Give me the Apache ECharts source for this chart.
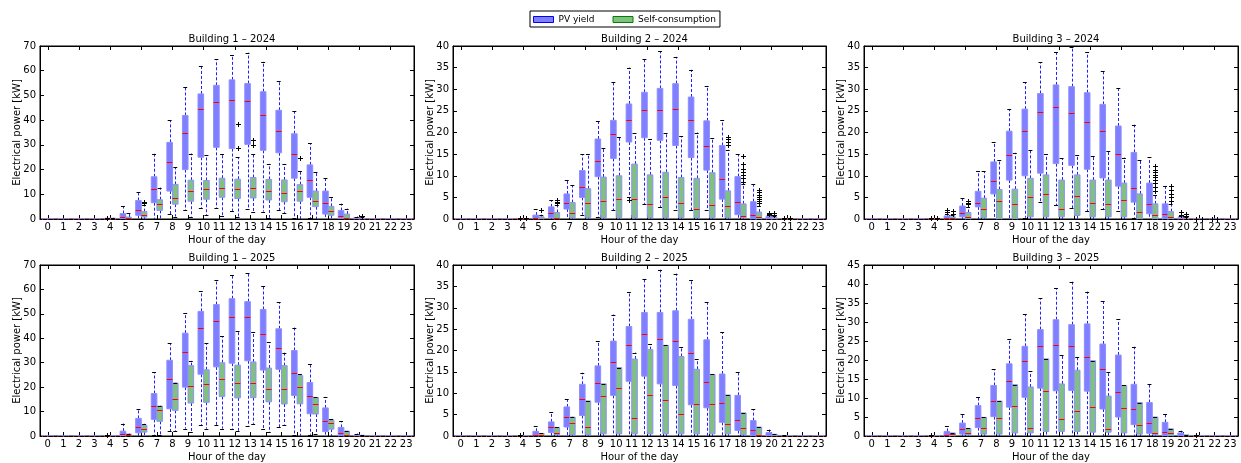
<!DOCTYPE html>
<html><head><meta charset="utf-8">
<script src="https://cdn.jsdelivr.net/npm/echarts@6/dist/echarts.min.js"></script>
<style>html,body{margin:0;padding:0;background:#fff}#c{width:1241px;height:463px}</style>
</head><body><div id="c"></div>
<script>
// ---------- data ----------
const hours = ['0','1','2','3','4','5','6','7','8','9','10','11','12','13','14','15','16','17','18','19','20','21','22','23'];
const titles = ['Building 1 \u2013 2024','Building 2 \u2013 2024','Building 3 \u2013 2024','Building 1 \u2013 2025','Building 2 \u2013 2025','Building 3 \u2013 2025'];
const yMax = [70, 40, 40, 70, 40, 45];
const yStep = [10, 5, 5, 10, 5, 5];
// each row: [lowWhisker, q1, median, q3, highWhisker] for hours 0..23
const b1_2024_pv = [[0,0,0,0,0],[0,0,0,0,0],[0,0,0,0,0],[0,0,0,0,0],[0,0,0.1,0.3,0.5],[0,0.1,0.8,2.2,5.2],[0,1.5,3.8,7.5,10.9],[0,6.6,12,17.1,26.4],[2,11.3,23,31,40],[3.5,20,35,41.9,53.6],[4.5,25,44.5,50.6,62],[4.5,29,47.4,54.1,64.6],[3.3,28.5,48.3,56.3,66.2],[4,30.2,47.7,54.8,67.3],[3,27.8,42,51.5,63.7],[3.5,26.8,35.7,44,55.7],[0.5,16.5,26.2,34.5,43.6],[0.3,8.8,15.7,21.9,30.7],[0,2,6.6,11.3,16.4],[0,0.3,1.3,3.4,6.2],[0,0,0.2,0.6,1],[0,0,0,0,0],[0,0,0,0,0],[0,0,0,0,0]];
const b1_2024_sc = [[0,0,0,0,0],[0,0,0,0,0],[0,0,0,0,0],[0,0,0,0,0],[0,0,0.1,0.3,0.5],[0,0,0.3,0.8,2.3],[0,0.8,1.8,3,5.5],[0,3.5,6,7.8,12.7],[1,6,8.6,14,20.9],[1,7.2,11.4,15.7,26.5],[1.5,8,12,15.6,25.8],[1.3,8.8,12.6,16.5,26.2],[1,8.3,12.3,16.1,24.9],[3,8.5,12.4,16.8,26.5],[0.5,7.7,11.3,16,22.3],[2.5,7,10.6,15.8,22.3],[0,7.2,11.3,13.9,19.4],[0,5,7.3,11.3,19.2],[0,1.5,3.2,5.1,8.7],[0,0,0.5,2,4.2],[0,0,0.1,0.3,0.8],[0,0,0,0,0],[0,0,0,0,0],[0,0,0,0,0]];
const b2_2024_pv = [[0,0,0,0,0],[0,0,0,0,0],[0,0,0,0,0],[0,0,0,0,0],[0,0,0,0.1,0.2],[0,0,0.3,0.9,2.2],[0,0.3,1.3,2.8,4.4],[0,2.3,3.8,5.8,9],[1,5,7.5,11.2,15],[0.5,9.8,13.4,18.5,22.7],[2,14,19.6,22.8,31.7],[5,17.8,22.8,26.6,35],[3.5,18.8,25.3,29.3,37],[2.8,18.2,25.3,30.2,38.8],[2,17,25.5,31.3,37.5],[2,14.2,23,28.2,34.5],[2,11.3,16.8,22.7,30.8],[0,4.6,9.3,17,22.8],[0,1,4,9.8,15],[0,0,1,4,8],[0,0,0.1,0.6,0.9],[0,0,0,0,0.1],[0,0,0,0,0],[0,0,0,0,0]];
const b2_2024_sc = [[0,0,0,0,0],[0,0,0,0,0],[0,0,0,0,0],[0,0,0,0,0],[0,0,0,0.1,0.2],[0,0,0.1,0.5,1],[0,0,0.2,1.5,3.2],[0,0.3,1.4,3.8,7.8],[0,0.3,3.8,7,15],[0,0.3,4.2,9.7,16.4],[0,0.3,4.6,10,18.9],[0,0.3,4.6,12.7,19.8],[0,0.3,3.5,10.2,18.4],[0,0.3,5.2,10.8,20],[0,0.3,3.8,9.6,19.2],[0,0.3,2.3,9.4,20],[0,0.3,3.2,10.7,18.7],[0,0.3,2.9,6.5,16],[0,0.3,0.8,3.5,8],[0,0,0.5,1.6,3],[0,0,0.1,0.3,0.6],[0,0,0,0,0.1],[0,0,0,0,0],[0,0,0,0,0]];
const b3_2024_pv = [[0,0,0,0,0],[0,0,0,0,0],[0,0,0,0,0],[0,0,0,0,0],[0,0,0,0.1,0.2],[0,0,0.2,0.7,1.2],[0,0.5,1.4,3,4.9],[0,2.8,3.7,6.4,11],[0,5.8,8.8,13.2,17.7],[0,9,14.7,20.3,25.4],[0.3,10,20.4,25.4,31.6],[4,10.6,24.8,29,36.3],[3.2,12.8,26,31,38.6],[2.5,12.4,24.4,30.6,39.7],[1.8,11.5,22.5,29.2,38.6],[2.2,9.5,20.4,26.5,34.2],[1.8,7.6,15,21.5,30.2],[0.3,3.9,7.2,15.4,21.8],[0,1.2,3.5,8.3,14.3],[0,0,1.2,3.5,7.7],[0,0,0.1,0.3,0.6],[0,0,0,0,0],[0,0,0,0,0],[0,0,0,0,0]];
const b3_2024_sc = [[0,0,0,0,0],[0,0,0,0,0],[0,0,0,0,0],[0,0,0,0,0],[0,0,0,0.1,0.2],[0,0,0.3,0.5,1],[0,0,0.5,1.5,2.8],[0,0.3,2.4,4.8,11],[0,0,4.1,6.8,13.6],[0,0,3.4,6.9,15.3],[0,0.5,5.1,9.4,15.9],[0,0.5,5.8,10.2,15],[0,0.5,2.4,9,14],[0,0.8,5.3,10.2,14.7],[0,0.5,3.6,9,14.5],[0,0.5,3.5,9,15.7],[0,0.5,4.5,8.3,14.2],[0,0,1.6,5.8,13.6],[0,0,1,3.5,5.5],[0,0,0.5,1.7,3.5],[0,0,0.1,0.2,0.5],[0,0,0,0,0],[0,0,0,0,0],[0,0,0,0,0]];
const b1_2025_pv = [[0,0,0,0,0],[0,0,0,0,0],[0,0,0,0,0],[0,0,0,0,0],[0,0,0,0.1,0.3],[0,0,0.7,2,5.1],[0,1.3,3.75,7.2,11.1],[0.5,6.8,12.2,17.4,26.1],[2,11.1,23.2,31,37.9],[3,20,34.3,42.1,50.2],[4.3,25.3,44.3,51,59.3],[4.3,28.3,47,53.8,64],[3,29.8,48.8,56.2,65.8],[4,30.8,48.8,55,66.6],[3,27,41.7,51.8,61.6],[3.5,27.3,35.9,43.9,54.7],[0.5,16.6,25.9,35,44.4],[0.5,9.1,16.2,21.9,29.5],[0,1.8,6.3,11.5,16],[0,0,1.4,3.5,6],[0,0,0.1,0.4,1],[0,0,0,0,0],[0,0,0,0,0],[0,0,0,0,0]];
const b1_2025_sc = [[0,0,0,0,0],[0,0,0,0,0],[0,0,0,0,0],[0,0,0,0,0],[0,0,0,0,0],[0,0,0.5,0.8,1],[0,1.6,2.95,4.4,5],[0.5,6,10.6,12.2,12.4],[2,10.5,15.2,21.7,21.8],[1.5,13.5,20.4,28.8,30.9],[3,13.8,21.2,27.1,38],[3,16.2,23.2,30,40.8],[2,15.6,21.6,29,42.9],[5,15.7,21.6,30.3,42.6],[1.5,14,19.3,27.8,38.4],[4.7,13.1,19.3,28.8,34.1],[0,13.2,20,24.7,25.2],[0.7,9,13.3,15.8,15.9],[0,2.8,5.5,6.6,7],[0,0,0.5,2,2.1],[0,0,0.1,0.3,0.4],[0,0,0,0,0],[0,0,0,0,0],[0,0,0,0,0]];
const b2_2025_pv = [[0,0,0,0,0],[0,0,0,0,0],[0,0,0,0,0],[0,0,0,0,0],[0,0,0,0.1,0.3],[0,0,0.3,1.1,2.3],[0,0.8,2.1,3.3,5.6],[0,2.1,4.4,6.8,8.6],[0,4.8,8.6,12.1,14.8],[0,7.9,12.4,16.4,22.2],[0,9.5,17.2,22.2,28.4],[0,12.8,21.4,25.6,33.8],[0,14,23.8,28.9,36.8],[0,12.2,22.7,28.9,38.9],[0,11.8,22.3,29.3,38],[0,7.3,19.5,27.3,36.4],[0,6.6,12.7,22.5,31.3],[0,3.2,7.8,14.5,24.3],[0,1.3,3.8,9.5,15],[0,0,1.3,3.6,6.3],[0,0,0.1,0.8,1.5],[0,0,0,0,0.2],[0,0,0,0,0],[0,0,0,0,0]];
const b2_2025_sc = [[0,0,0,0,0],[0,0,0,0,0],[0,0,0,0,0],[0,0,0,0,0],[0,0,0,0,0],[0,0,0.3,0.6,0.7],[0,0.3,0.8,2,2],[0,0.3,3,4.4,4.5],[0,0.3,2,8.2,8.2],[0,0.5,9.4,12.2,12.2],[0,0.5,11.2,16,16],[0,0.5,4.2,18,19.5],[0,0.5,9.5,20.2,21.5],[0,0.5,8.4,21.2,21.2],[0,0.5,5.2,18.6,20.8],[0,0.5,7.6,15.6,18],[0,0.5,7.4,14.4,14.4],[0,0.5,2.7,9.6,9.6],[0,0.3,1.9,5.4,5.4],[0,0,0.2,2.1,2.1],[0,0,0.1,0.4,0.4],[0,0,0,0,0],[0,0,0,0,0],[0,0,0,0,0]];
const b3_2025_pv = [[0,0,0,0,0],[0,0,0,0,0],[0,0,0,0,0],[0,0,0,0,0],[0,0,0,0.1,0.3],[0,0,0.3,1.2,2.6],[0,0.5,1.8,3.4,5.9],[0,2.2,4.8,8,10.3],[0,5.1,9.1,13.3,17.6],[0,7.6,14.5,19,25.4],[0,10.2,19.7,23.6,32],[0,12.6,23.8,28,36.2],[0,11.9,24,30.6,38.9],[0,12,23.8,29.3,40.6],[0,11.8,20.7,29.5,38],[0,7.1,17.6,24.2,35.5],[0,5,11.5,21.3,30.7],[0,3,7.1,13.6,23.5],[0,0.7,3.3,8.8,13.7],[0,0,1.1,3.6,5.8],[0,0,0.1,0.8,1.4],[0,0,0,0,0.2],[0,0,0,0,0],[0,0,0,0,0]];
const b3_2025_sc = [[0,0,0,0,0],[0,0,0,0,0],[0,0,0,0,0],[0,0,0,0,0],[0,0,0,0,0],[0,0,0.4,0.8,0.8],[0,0.3,0.7,2,2],[0,0.5,2.2,4.9,4.9],[0,0.5,4.8,9.2,9.2],[0,0.8,8,13.5,13.5],[0,0.8,2.2,12.9,17],[0,1.2,11.9,20.3,20.3],[0,1.2,4.4,13.7,21.3],[0,1.2,6.7,17.3,20.9],[0,1,7.6,19.8,19.8],[0,1,1.8,10.5,16.8],[0,0.8,7.4,13.3,13.3],[0,0.5,2.8,8.8,8.8],[0,0.3,0.7,5,5],[0,0,0.7,1.9,1.9],[0,0,0.1,0.3,0.3],[0,0,0,0,0],[0,0,0,0,0],[0,0,0,0,0]];
// outliers: [hour, value]
const b1_2024_pv_out = [[4,0.6]];
const b1_2024_sc_out = [[6,6.3],[6,6.8],[12,28.9],[12,38.5],[13,30],[13,32],[16,24.6],[20,1.1]];
const b2_2024_pv_out = [[4,0.3],[11,4.3],[20,1.5],[20,1.1],[21,0.2]];
const b2_2024_sc_out = [[4,0.3],[5,2],[6,3.6],[6,4],[6,4.5],[17,17.2],[17,17.8],[17,18.4],[17,19],[18,8.6],[18,9.5],[18,10.2],[18,10.9],[18,11.6],[18,12.7],[18,14.5],[19,3.6],[19,4.1],[19,4.6],[19,5.1],[19,5.6],[19,6.2],[19,6.7],[20,1],[20,1.5],[21,0.2]];
const b3_2024_pv_out = [[4,0.3],[5,1.7],[5,2.1],[20,1],[20,1.6],[21,0.1],[22,0.1]];
const b3_2024_sc_out = [[4,0.3],[5,1.2],[5,1.8],[6,3.4],[6,3.8],[6,4.2],[18,6.5],[18,7.5],[18,8.4],[18,9],[18,9.6],[18,10.2],[18,10.8],[18,11.4],[18,12.2],[19,4.2],[19,5],[19,5.8],[19,6.6],[19,7.6],[20,0.8],[20,1.2],[21,0.1],[22,0.1]];
const b1_2025_pv_out = [[4,0.3]];
const b1_2025_sc_out = [];
const b2_2025_pv_out = [[4,0.3]];
const b2_2025_sc_out = [];
const b3_2025_pv_out = [[4,0.3],[21,0.2]];
const b3_2025_sc_out = [];

// ---------- layout & style ----------
const panels = [
  {pv:b1_2024_pv, sc:b1_2024_sc, pvo:b1_2024_pv_out, sco:b1_2024_sc_out},
  {pv:b2_2024_pv, sc:b2_2024_sc, pvo:b2_2024_pv_out, sco:b2_2024_sc_out},
  {pv:b3_2024_pv, sc:b3_2024_sc, pvo:b3_2024_pv_out, sco:b3_2024_sc_out},
  {pv:b1_2025_pv, sc:b1_2025_sc, pvo:b1_2025_pv_out, sco:b1_2025_sc_out},
  {pv:b2_2025_pv, sc:b2_2025_sc, pvo:b2_2025_pv_out, sco:b2_2025_sc_out},
  {pv:b3_2025_pv, sc:b3_2025_sc, pvo:b3_2025_pv_out, sco:b3_2025_sc_out}
];
const grids = [
  {left:40, top:46, width:374, height:173},
  {left:453, top:46, width:373, height:173},
  {left:864, top:46, width:374, height:173},
  {left:40, top:265, width:374, height:174},
  {left:453, top:265, width:373, height:174},
  {left:864, top:265, width:374, height:174}
];
const FONT = 'DejaVu Sans';
const PV_FILL = '#7f7fff', SC_FILL = '#80c080', BOX_EDGE = '#8f8fff';
const OFF = 0.18, BW = 0.36;
const px = v => Math.round(v) + 0.5;

function boxRenderer(side, fill){
  return function(params, api){
    const h = api.value(0);
    const band = api.size([1, 0])[0];
    const cx = api.coord([h, 0])[0] + side * OFF * band;
    const w = BW * band;
    const yl = api.coord([h, api.value(1)])[1];
    const y1 = api.coord([h, api.value(2)])[1];
    const ym = api.coord([h, api.value(3)])[1];
    const y3 = api.coord([h, api.value(4)])[1];
    const yh = api.coord([h, api.value(5)])[1];
    const x = px(cx);
    const wStyle = {stroke:'#2020ff', lineWidth:1, lineDash:[3,2], fill:null};
    const cw = w * 0.7;
    return {type:'group', children:[
      {type:'line', shape:{x1:x, y1:y3, x2:x, y2:yh}, style:wStyle},
      {type:'line', shape:{x1:x, y1:y1, x2:x, y2:yl}, style:wStyle},
      {type:'rect', shape:{x:cx - w/2, y:y3, width:w, height:Math.max(y1 - y3, 0)}, style:{fill:fill, stroke:BOX_EDGE, lineWidth:1}},
      {type:'line', shape:{x1:cx - w/2, y1:px(ym), x2:cx + w/2, y2:px(ym)}, style:{stroke:'#ff0000', lineWidth:1}},
      {type:'line', shape:{x1:cx - cw/2, y1:px(yh), x2:cx + cw/2, y2:px(yh)}, style:{stroke:'#000', lineWidth:1}},
      {type:'line', shape:{x1:cx - cw/2, y1:px(yl), x2:cx + cw/2, y2:px(yl)}, style:{stroke:'#000', lineWidth:1}}
    ]};
  };
}
function fliersRenderer(side){
  return function(params, api){
    const h = api.value(0);
    const band = api.size([1, 0])[0];
    const c = api.coord([h, api.value(1)]);
    const x = px(c[0] + side * OFF * band), y = px(c[1]);
    const s = 2.5;
    return {type:'group', children:[
      {type:'line', shape:{x1:x - s, y1:y, x2:x + s, y2:y}, style:{stroke:'#000', lineWidth:1}},
      {type:'line', shape:{x1:x, y1:y - s, x2:x, y2:y + s}, style:{stroke:'#000', lineWidth:1}}
    ]};
  };
}

const xAxis = [], yAxis = [], series = [], title = [];
const axisLine = {show:true, onZero:false, lineStyle:{color:'#000', width:1}};
panels.forEach((p, i) => {
  const g = grids[i];
  title.push({text:titles[i], left:g.left + g.width/2, top:g.top - 17, textAlign:'center',
    textStyle:{fontFamily:FONT, fontSize:10, fontWeight:'normal', color:'#000'}});
  xAxis.push({type:'category', gridIndex:i, data:hours, boundaryGap:true, position:'bottom',
    axisLine:axisLine, axisTick:{show:true, inside:true, alignWithLabel:true, length:4, lineStyle:{color:'#000'}},
    axisLabel:{interval:0, margin:3, fontFamily:FONT, fontSize:10, color:'#000'},
    name:'Hour of the day', nameLocation:'middle', nameGap:16, nameMoveOverlap:false,
    nameTextStyle:{fontFamily:FONT, fontSize:10, color:'#000'}});
  xAxis.push({type:'category', gridIndex:i, data:hours, boundaryGap:true, position:'top',
    axisLine:axisLine, axisTick:{show:true, inside:true, alignWithLabel:true, length:4, lineStyle:{color:'#000'}},
    axisLabel:{show:false}});
  yAxis.push({type:'value', gridIndex:i, min:0, max:yMax[i], interval:yStep[i], position:'left',
    axisLine:axisLine, axisTick:{show:true, inside:true, length:4, lineStyle:{color:'#000'}}, splitLine:{show:false},
    axisLabel:{margin:4, fontFamily:FONT, fontSize:10, color:'#000'},
    name:'Electrical power [kW]', nameLocation:'middle', nameGap:18, nameMoveOverlap:false,
    nameTextStyle:{fontFamily:FONT, fontSize:10, color:'#000'}});
  yAxis.push({type:'value', gridIndex:i, min:0, max:yMax[i], interval:yStep[i], position:'right',
    axisLine:axisLine, axisTick:{show:true, inside:true, length:4, lineStyle:{color:'#000'}}, splitLine:{show:false},
    axisLabel:{show:false}});
  const common = {type:'custom', xAxisIndex:2*i, yAxisIndex:2*i, silent:true, animation:false};
  series.push(Object.assign({}, common, {name:'PV yield', itemStyle:{color:PV_FILL},
    renderItem:boxRenderer(-1, PV_FILL), encode:{x:0, y:[1,2,3,4,5]},
    data:p.pv.map((v, h) => [h].concat(v))}));
  series.push(Object.assign({}, common, {name:'Self-consumption', itemStyle:{color:SC_FILL},
    renderItem:boxRenderer(1, SC_FILL), encode:{x:0, y:[1,2,3,4,5]},
    data:p.sc.map((v, h) => [h].concat(v))}));
  series.push(Object.assign({}, common, {name:'pv-fliers', renderItem:fliersRenderer(-1), encode:{x:0, y:1}, data:p.pvo}));
  series.push(Object.assign({}, common, {name:'sc-fliers', renderItem:fliersRenderer(1), encode:{x:0, y:1}, data:p.sco}));
});

const chart = echarts.init(document.getElementById('c'), null, {renderer:'canvas'});
chart.setOption({
  animation:false,
  backgroundColor:'#fff',
  title:title,
  legend:{
    data:[{name:'PV yield', itemStyle:{color:PV_FILL, borderColor:'#0000ff', borderWidth:1}},
          {name:'Self-consumption', itemStyle:{color:SC_FILL, borderColor:'#008000', borderWidth:1}}],
    left:530, top:11, padding:[4,4,3,3], itemGap:18, itemWidth:20, itemHeight:6, icon:'rect',
    borderColor:'#000', borderWidth:1, selectedMode:false,
    textStyle:{fontFamily:FONT, fontSize:9, color:'#000'}
  },
  grid:grids.map(g => Object.assign({show:true, borderColor:'#000', borderWidth:1, containLabel:false}, g)),
  xAxis:xAxis, yAxis:yAxis, series:series
});
</script></body></html>
